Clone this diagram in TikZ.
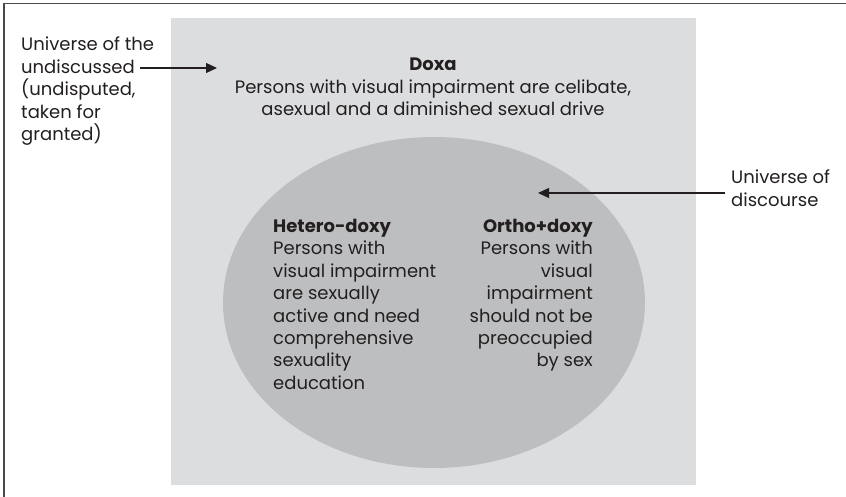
\documentclass[tikz,border=0pt]{standalone}
\usepackage{fontspec}
\setmainfont{Poppins}
\usetikzlibrary{arrows.meta}
\definecolor{boxgray}{HTML}{DCDDDF}
\definecolor{ellgray}{HTML}{BDBEC0}
\definecolor{txt}{HTML}{231F20}
\definecolor{frame}{HTML}{4A4A4A}
\tikzset{
  lbl/.style={inner sep=0pt, text=txt, font=\fontsize{18}{22.4}\selectfont},
  pointer/.style={draw=txt, line width=1.2pt, -{Triangle[length=11pt,width=10pt]}}
}
\begin{document}
\begin{tikzpicture}[x=1pt,y=-1pt]
\useasboundingbox (0,0) rectangle (846,497);
\draw[frame, line width=1.5pt] (4,497) -- (4,3.5) -- (846,3.5);
\fill[boxgray] (171,18) rectangle (696,485);
\fill[ellgray] (434,302.5) ellipse [x radius=211, y radius=165.5];
\node[lbl, anchor=north west, align=left] (undisc) at (21,37)
  {Universe of the\\undiscussed\\(undisputed,\\taken for\\granted)};
\coordinate (undiscend) at (140,68);
\coordinate (doxatip) at (217,68);
\node[lbl, anchor=north, align=center] (doxa) at (433,58)
  {\textbf{Doxa}\\Persons with visual impairment are celibate,\\asexual and a diminished sexual drive};
\node[lbl, anchor=north west, align=left] (discourse) at (731,170)
  {Universe of\\discourse};
\coordinate (discstart) at (725,193);
\coordinate (disctip) at (538,193);
\node[lbl, anchor=north west, align=left] (hetero) at (273,219)
  {\textbf{Hetero-doxy}\\Persons with\\visual impairment\\are sexually\\active and need\\comprehensive\\sexuality\\education};
\node[lbl, anchor=north east, align=right] (ortho) at (593,219)
  {\textbf{Ortho+doxy}\\Persons with\\visual\\impairment\\should not be\\preoccupied\\by sex};
\draw[pointer] (undiscend) -- (doxatip);
\draw[pointer] (discstart) -- (disctip);
\end{tikzpicture}
\end{document}
